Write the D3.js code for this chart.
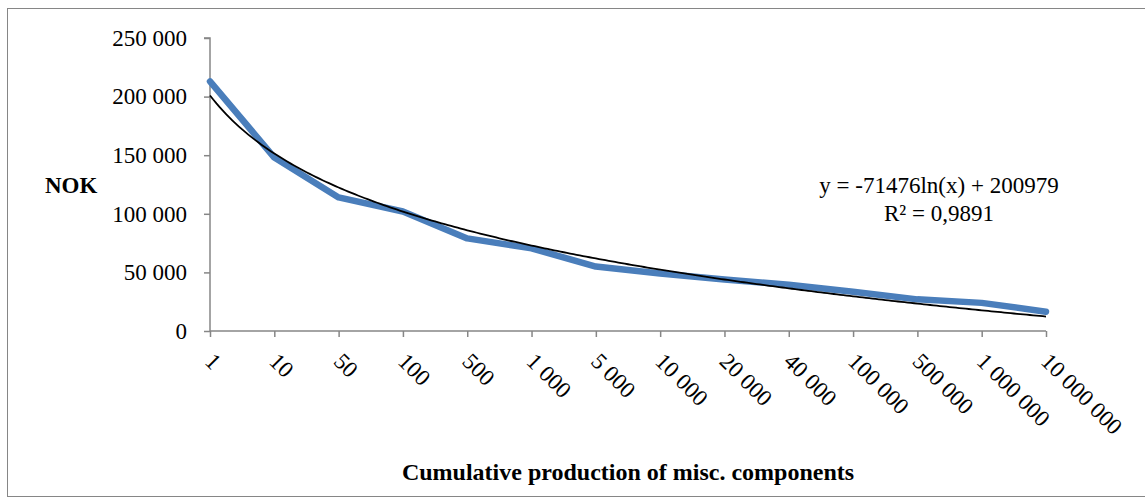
<!DOCTYPE html>
<html><head><meta charset="utf-8">
<script src="https://cdn.jsdelivr.net/npm/d3@7"></script>
<style>
html,body{margin:0;padding:0;background:#fff;}
svg{display:block;font-family:"Liberation Serif","Times New Roman",serif;}
</style></head>
<body><svg id="c" width="1145" height="504"></svg>
<script>
const categories = ["1","10","50","100","500","1 000","5 000","10 000","20 000","40 000","100 000","500 000","1 000 000","10 000 000"];
const costs = [213000,148000,114000,102000,79000,70500,55000,49000,44000,39500,33500,27000,24000,16500];
const yTicks = [0,50000,100000,150000,200000,250000];
const trendA = -71476, trendB = 200979;
const equationLines = ["y = -71476ln(x) + 200979","R² = 0,9891"];
const yTitle = "NOK";
const xTitle = "Cumulative production of misc. components";

const svg = d3.select("#c");
svg.append("rect").attr("x",7.5).attr("y",8.5).attr("width",1145).attr("height",488)
  .attr("fill","#fff").attr("stroke","#868686").attr("stroke-width",1);

const L=210, R=1046, T=38, B=331;
const x = d3.scalePoint().domain(categories).range([L,R]);
const y = d3.scaleLinear().domain([0,250000]).range([B,T]);
const fmt = v => d3.format(",")(v).replace(/,/g," ");

// y axis
const ya = svg.append("g").attr("transform",`translate(${L},0)`)
  .call(d3.axisLeft(y).tickValues(yTicks).tickSize(6).tickPadding(17).tickFormat(fmt));
ya.select(".domain").attr("stroke","#868686").attr("stroke-width",1.5).attr("d",`M-6,${T}H0V${B}`);
ya.selectAll(".tick line").attr("stroke","#868686").attr("stroke-width",1.5);
ya.selectAll("text").attr("font-family","Liberation Serif").attr("font-size",23).attr("fill","#000");

// x axis
const xa = svg.append("g").attr("transform",`translate(0,${B})`)
  .call(d3.axisBottom(x).tickSize(6).tickSizeOuter(0));
xa.select(".domain").attr("stroke","#868686").attr("stroke-width",1.5).attr("d",`M${L},0H${R}`);
xa.selectAll(".tick line").attr("stroke","#868686").attr("stroke-width",1.5);
xa.selectAll(".tick text").attr("font-family","Liberation Serif").attr("font-size",23).attr("fill","#000")
  .attr("text-anchor","start").attr("y",0).attr("dy","0.72em")
  .attr("transform","translate(5,20) rotate(45)");

// data line
const line = d3.line().x(d=>x(d.c)).y(d=>y(d.v));
const data = categories.map((c,i)=>({c,v:costs[i]}));
svg.append("path").datum(data).attr("d",line).attr("fill","none")
  .attr("stroke","#4A7EBB").attr("stroke-width",6.5).attr("stroke-linejoin","round").attr("stroke-linecap","round");

// logarithmic trendline over category index
const xi = d3.scaleLinear().domain([1,categories.length]).range([L,R]);
const trend = d3.range(1, categories.length+0.001, 0.05).map(i=>({i, v: trendA*Math.log(i)+trendB}));
svg.append("path").datum(trend).attr("d",d3.line().x(d=>xi(d.i)).y(d=>y(d.v)))
  .attr("fill","none").attr("stroke","#000").attr("stroke-width",1.8);

// equation
svg.append("g").selectAll("text").data(equationLines).join("text")
  .attr("x",939).attr("y",(d,i)=>193+i*28).attr("text-anchor","middle")
  .attr("font-size",23).attr("fill","#000").text(d=>d);

// axis titles
svg.append("text").attr("x",45).attr("y",193).attr("font-size",23).attr("font-weight","bold").text(yTitle);
svg.append("text").attr("x",628).attr("y",480).attr("text-anchor","middle").attr("font-size",24).attr("font-weight","bold").text(xTitle);
</script></body></html>
